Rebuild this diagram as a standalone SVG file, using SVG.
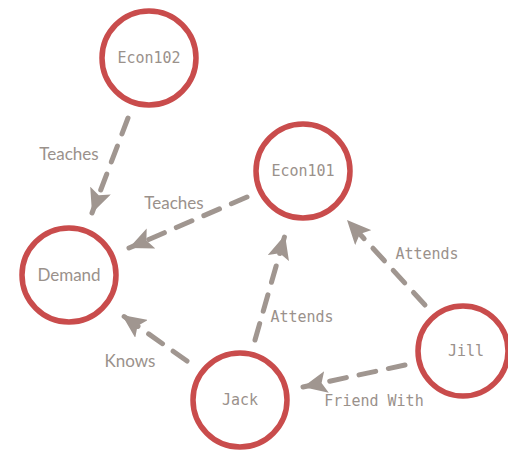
<svg xmlns="http://www.w3.org/2000/svg" width="508" height="450" viewBox="0 0 508 450">
<defs>
<style>
.node circle{fill:#fff;stroke:#c94c4c;stroke-width:5.5}
.mono{font-family:"DejaVu Sans Mono","Liberation Mono",monospace;font-size:15px;fill:#9a918b;text-anchor:middle}
.hand{font-family:"Lato","DejaVu Sans",sans-serif;font-size:17px;fill:#9a918b;text-anchor:middle}
.edge{fill:none;stroke:#a09690;stroke-width:5;stroke-dasharray:17 13;stroke-linecap:round}
</style>
<marker id="arr" markerUnits="userSpaceOnUse" markerWidth="26" markerHeight="22" refX="24" refY="11" orient="auto">
<path d="M0,0 L24,11 L0,22 L5,11 Z" fill="#a09690"/>
</marker>
</defs>
<rect width="508" height="450" fill="#fff"/>
<g id="connectors">
<path class="edge" d="M128,118 L92,213" marker-end="url(#arr)"/>
<path class="edge" d="M247,197 L129,248" marker-end="url(#arr)"/>
<path class="edge" d="M255,340 L285,235" marker-end="url(#arr)"/>
<path class="edge" d="M425,305 L347,220" marker-end="url(#arr)"/>
<path class="edge" d="M187,361 L122,315" marker-end="url(#arr)"/>
<path class="edge" d="M405,365 L303,387" marker-end="url(#arr)"/>
<text class="hand" x="69" y="160">Teaches</text>
<text class="hand" x="174" y="209">Teaches</text>
<text class="mono" x="302" y="322">Attends</text>
<text class="mono" x="427" y="259">Attends</text>
<text class="hand" x="130" y="367">Knows</text>
<text class="mono" x="374" y="406">Friend With</text>
</g>
<g id="econ102" class="node"><circle cx="149" cy="58" r="47"/><text class="mono" x="149" y="63">Econ102</text></g>
<g id="econ101" class="node"><circle cx="303" cy="171" r="47"/><text class="mono" x="303" y="176">Econ101</text></g>
<g id="demand" class="node"><circle cx="69" cy="275" r="47"/><text class="hand" x="69" y="281">Demand</text></g>
<g id="jack" class="node"><circle cx="240" cy="400" r="47"/><text class="mono" x="240" y="405">Jack</text></g>
<g id="jill" class="node"><circle cx="463" cy="351" r="45"/><text class="mono" x="466" y="356">Jill</text></g>
</svg>
